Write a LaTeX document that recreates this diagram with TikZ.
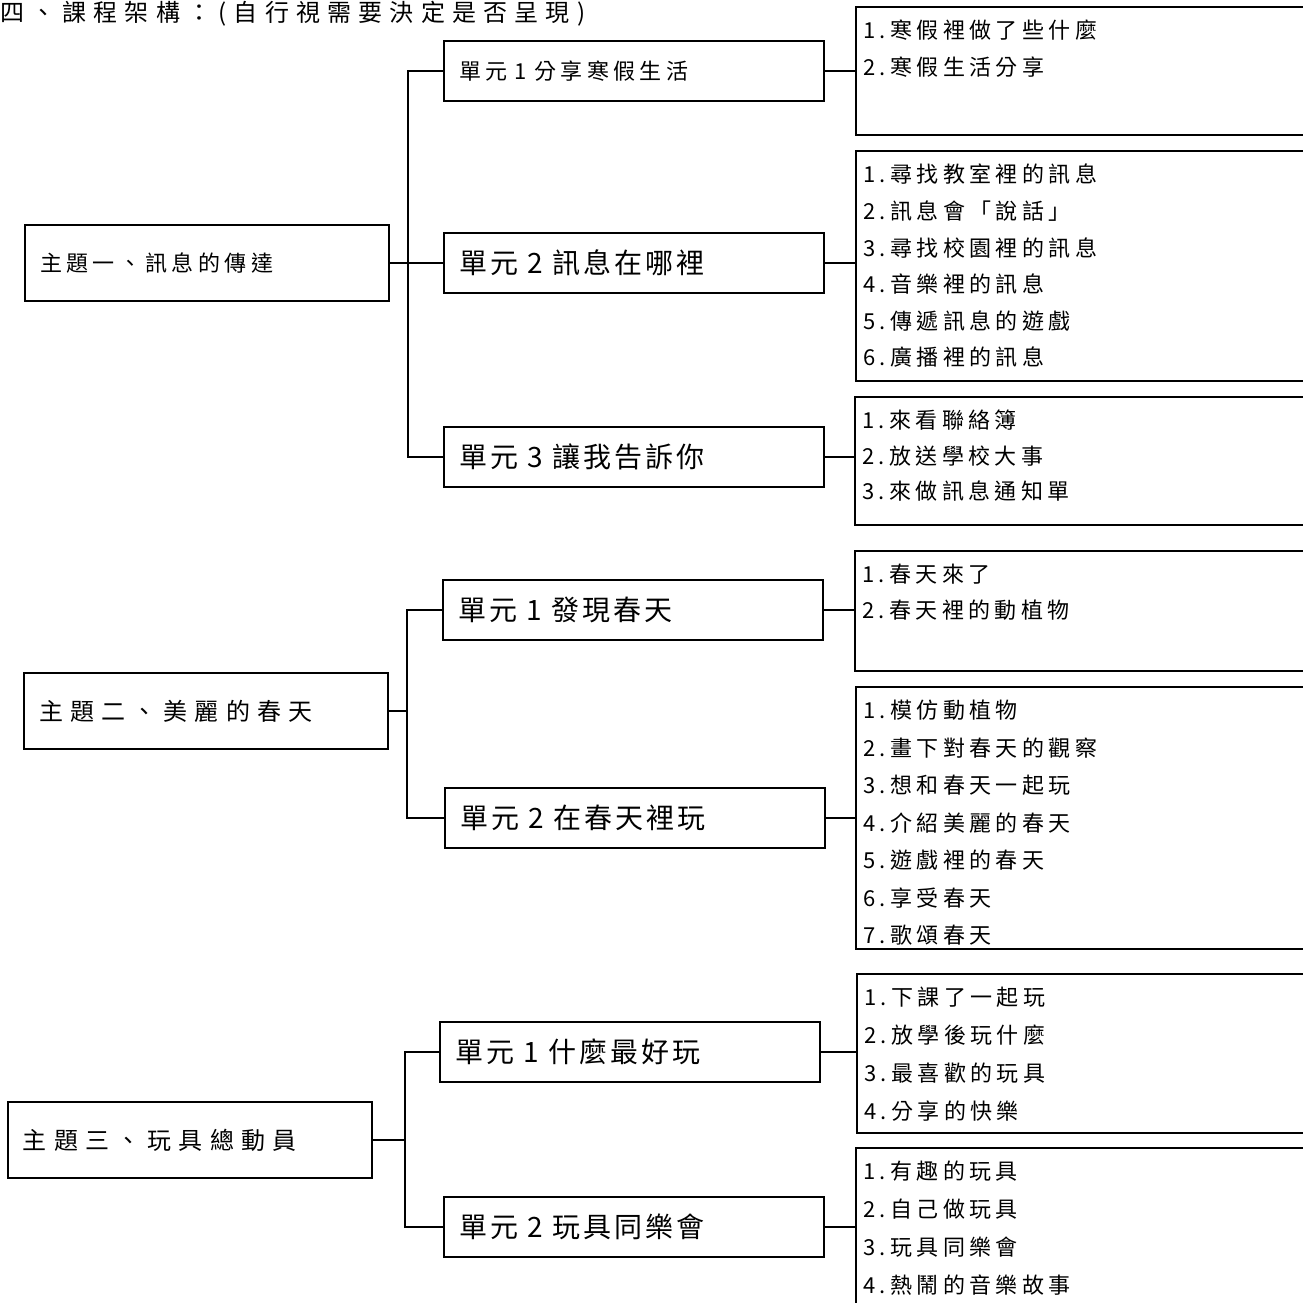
\documentclass[tikz,border=0pt]{standalone}
\usepackage{fontspec}
\setmainfont{Noto Sans CJK TC}
\newfontfamily\titlefont[LetterSpace=30]{Noto Sans CJK TC}
\newfontfamily\themefont[LetterSpace=30]{Noto Sans CJK TC}
\newfontfamily\unitfont[LetterSpace=11]{Noto Sans CJK TC}
\newfontfamily\listfont[LetterSpace=20]{Noto Sans CJK TC}

% numbered lines inside a list box: box name, line step, items
\newcommand{\topics}[3]{%
  \foreach \t [count=\i] in {#3}
    \node[topic] (#1-\i) at ([xshift=8pt,yshift={-24.5pt-(\i-1)*#2}]#1.north west) {\i.\t};%
}

\begin{document}
\begin{tikzpicture}[x=1pt,y=1pt,
  theme/.style={draw, line width=2pt, anchor=west, text width=334pt, inner xsep=15pt,
    inner ysep=0pt, minimum height=76pt, align=left, font=\themefont\fontsize{24}{28}\selectfont},
  unit/.style={draw, line width=2pt, anchor=west, text width=350pt, inner xsep=15pt,
    inner ysep=0pt, minimum height=60pt, align=left, font=\unitfont\fontsize{28}{30}\selectfont},
  smalltext/.style={font=\listfont\fontsize{22}{26}\selectfont},
  listbox/.style={draw, line width=2pt, anchor=north west, minimum width=480pt, inner sep=0pt},
  topic/.style={anchor=west, inner sep=0pt, font=\listfont\fontsize{22}{26}\selectfont},
  conn/.style={line width=1.7pt}]
\useasboundingbox (0,0) rectangle (1303,-1302);

\node[anchor=base west, inner sep=0pt, font=\titlefont\fontsize{24}{28}\selectfont] (title)
  at (0,-21) {四、課程架構：(自行視需要決定是否呈現)};

% theme 1
\node[theme, smalltext] (t1) at (24,-263) {主題一、訊息的傳達};
\node[unit, smalltext] (t1u1) at (443,-71) {單元 1 分享寒假生活};
\node[unit] (t1u2) at (443,-263) {單元 2 訊息在哪裡};
\node[unit] (t1u3) at (443,-457) {單元 3 讓我告訴你};
\node[listbox, minimum height=128pt] (t1l1) at (855,-6) {};
\node[listbox, minimum height=230pt] (t1l2) at (855,-150) {};
\node[listbox, minimum height=128pt] (t1l3) at (854,-396) {};
\topics{t1l1}{37pt}{寒假裡做了些什麼,寒假生活分享}
\topics{t1l2}{36.6pt}{尋找教室裡的訊息,訊息會「說話」,尋找校園裡的訊息,音樂裡的訊息,傳遞訊息的遊戲,廣播裡的訊息}
\topics{t1l3}{35.5pt}{來看聯絡簿,放送學校大事,來做訊息通知單}

\coordinate (b1) at ([xshift=18pt]t1.east);
\draw[conn] (t1.east) -- (b1);
\draw[conn] (t1u1.west) -| (b1) |- (t1u3.west);
\draw[conn] (b1) -- (t1u2.west);
\foreach \u in {1,2,3} \draw[conn] (t1u\u.east) -- (t1u\u.east -| t1l\u.west);

% theme 2
\node[theme] (t2) at (23,-711) {主題二、美麗的春天};
\node[unit] (t2u1) at (442,-610) {單元 1 發現春天};
\node[unit] (t2u2) at (444,-818) {單元 2 在春天裡玩};
\node[listbox, minimum height=120pt] (t2l1) at (854,-550) {};
\node[listbox, minimum height=262pt] (t2l2) at (855,-686) {};
\topics{t2l1}{36pt}{春天來了,春天裡的動植物}
\topics{t2l2}{37.5pt}{模仿動植物,畫下對春天的觀察,想和春天一起玩,介紹美麗的春天,遊戲裡的春天,享受春天,歌頌春天}

\coordinate (b2) at ([xshift=18pt]t2.east);
\draw[conn] (t2.east) -- (b2);
\draw[conn] (t2u1.west) -| (b2) |- (t2u2.west);
\foreach \u in {1,2} \draw[conn] (t2u\u.east) -- (t2u\u.east -| t2l\u.west);

% theme 3
\node[theme] (t3) at (7,-1140) {主題三、玩具總動員};
\node[unit] (t3u1) at (439,-1052) {單元 1 什麼最好玩};
\node[unit] (t3u2) at (443,-1227) {單元 2 玩具同樂會};
\node[listbox, minimum height=159pt] (t3l1) at (856,-973) {};
\node[listbox, minimum height=170pt] (t3l2) at (855,-1147) {};
\topics{t3l1}{37.7pt}{下課了一起玩,放學後玩什麼,最喜歡的玩具,分享的快樂}
\topics{t3l2}{37.7pt}{有趣的玩具,自己做玩具,玩具同樂會,熱鬧的音樂故事}

\coordinate (b3) at ([xshift=32pt]t3.east);
\draw[conn] (t3.east) -- (b3);
\draw[conn] (t3u1.west) -| (b3) |- (t3u2.west);
\foreach \u in {1,2} \draw[conn] (t3u\u.east) -- (t3u\u.east -| t3l\u.west);
\end{tikzpicture}
\end{document}
